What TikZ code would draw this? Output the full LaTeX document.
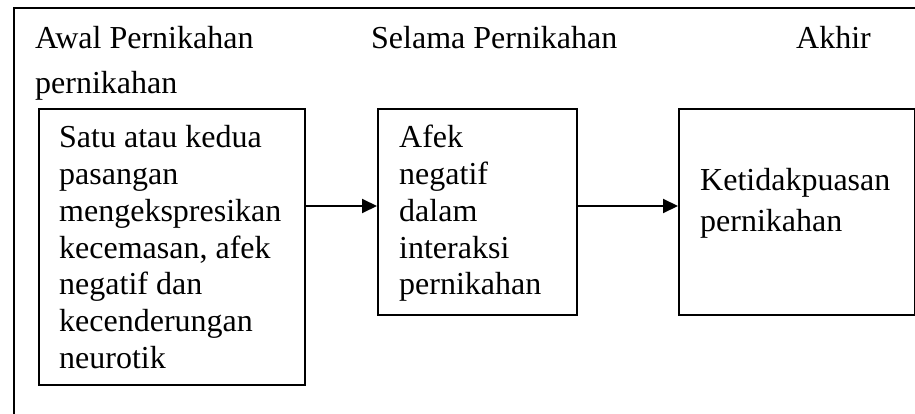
\documentclass[tikz,border=0pt]{standalone}
\usepackage{fontspec}
\setmainfont{Liberation Serif}
\usetikzlibrary{arrows.meta}
\begin{document}
\begin{tikzpicture}[x=1pt,y=-1pt,
  lbl/.style={anchor=base west, inner sep=0pt, font=\fontsize{32}{36.8}\selectfont},
  boxtxt/.style={lbl, align=left},
  frame/.style={draw, line width=1.5pt},
  box/.style={draw, line width=1.8pt, inner sep=0pt, anchor=north west},
  arr/.style={line width=2pt, -{Triangle[length=15pt,width=14pt]}}]
\useasboundingbox (0,0) rectangle (915,414);
\draw[frame] (14,414) -- (14,8) -- (915,8);
% boxes
\node[box, minimum width=266pt, minimum height=276pt] (b1) at (38,108) {};
\node[box, minimum width=199pt, minimum height=206pt] (b2) at (377,108) {};
\node[box, minimum width=236pt, minimum height=206pt] (b3) at (678,108) {};
% headers
\node[lbl] (h1) at (35,48.3) {Awal Pernikahan};
\node[lbl] (h1b) at (35,93.3) {pernikahan};
\node[lbl] (h2) at (371,48.3) {Selama Pernikahan};
\node[lbl] (h3) at (796,48.3) {Akhir};
% box texts (base anchor = baseline of last line)
\node[boxtxt] (t1) at (59,368.5) {Satu atau kedua\\pasangan\\mengekspresikan\\kecemasan, afek\\negatif dan\\kecenderungan\\neurotik};
\node[boxtxt] (t2) at (399,294.9) {Afek\\negatif\\dalam\\interaksi\\pernikahan};
\node[boxtxt, font=\fontsize{32}{40}\selectfont] (t3) at (700,231) {Ketidakpuasan\\pernikahan};
% arrows
\coordinate (ay) at (0,206);
\draw[arr] (b1.east |- ay) -- (b2.west |- ay);
\draw[arr] (b2.east |- ay) -- (b3.west |- ay);
\end{tikzpicture}
\end{document}
